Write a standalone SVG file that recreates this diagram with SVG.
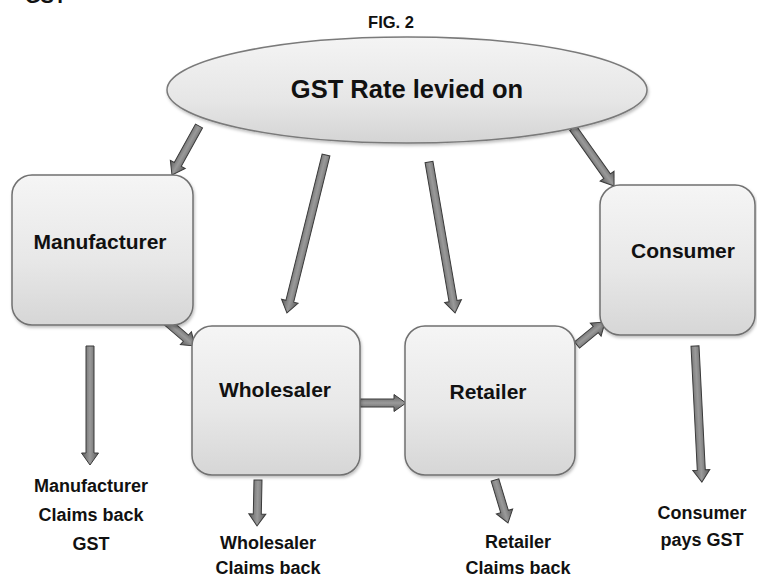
<svg xmlns="http://www.w3.org/2000/svg" width="757" height="579" viewBox="0 0 757 579">
  <defs>
    <linearGradient id="boxGrad" x1="0" y1="0" x2="0" y2="1">
      <stop offset="0" stop-color="#f5f5f5"/>
      <stop offset="0.55" stop-color="#e8e8e8"/>
      <stop offset="1" stop-color="#d6d6d6"/>
    </linearGradient>
    <linearGradient id="ellGrad" x1="0" y1="0" x2="0" y2="1">
      <stop offset="0" stop-color="#f4f4f4"/>
      <stop offset="0.6" stop-color="#e6e6e6"/>
      <stop offset="1" stop-color="#d4d4d4"/>
    </linearGradient>
    <linearGradient id="arrGrad" x1="0" y1="0" x2="0" y2="1">
      <stop offset="0" stop-color="#5a5a5a"/>
      <stop offset="0.5" stop-color="#9a9a9a"/>
      <stop offset="1" stop-color="#5a5a5a"/>
    </linearGradient>
    <filter id="shadow" x="-10%" y="-10%" width="120%" height="125%">
      <feDropShadow dx="1" dy="2" stdDeviation="1.5" flood-color="#000" flood-opacity="0.25"/>
    </filter>
  </defs>
  <style>
    .node { fill: url(#boxGrad); stroke: #707070; stroke-width: 1.5; filter: url(#shadow); }
    .ell { fill: url(#ellGrad); stroke: #7a7a7a; stroke-width: 1.5; filter: url(#shadow); }
    .arrow { fill: url(#arrGrad); stroke: #3a3a3a; stroke-width: 1; stroke-linejoin: miter; }
    text { font-family: "Liberation Sans", Arial, sans-serif; font-weight: bold; fill: #111; text-anchor: middle; }
    .nt { font-size: 21px; }
    .lt { font-size: 18px; }
  </style>

  <rect width="757" height="579" fill="#ffffff"/>

  <text x="25" y="3" style="text-anchor:start;font-size:20px">GST</text>
  <text x="391" y="28" style="font-size:16.5px">FIG. 2</text>

  <g id="connectors">
    <path class="arrow" transform="translate(199,126) rotate(118.9)" d="M0,-4 H43.9 V-8.5 L55.9,0 L43.9,8.5 V4 H0 Z"/>
    <path class="arrow" transform="translate(326,155) rotate(103.9)" d="M0,-4 H150.7 V-8.5 L162.7,0 L150.7,8.5 V4 H0 Z"/>
    <path class="arrow" transform="translate(429,162) rotate(80.2)" d="M0,-4 H141.2 V-8.5 L153.2,0 L141.2,8.5 V4 H0 Z"/>
    <path class="arrow" transform="translate(573,128) rotate(54.7)" d="M0,-4 H59 V-8.5 L71,0 L59,8.5 V4 H0 Z"/>
    <path class="arrow" transform="translate(167,322) rotate(40.6)" d="M0,-4 H24.9 V-8.5 L36.9,0 L24.9,8.5 V4 H0 Z"/>
    <path class="arrow" transform="translate(90,346) rotate(90)" d="M0,-4 H107 V-8.5 L119,0 L107,8.5 V4 H0 Z"/>
    <path class="arrow" transform="translate(360,403) rotate(0)" d="M0,-4 H34 V-8.5 L46,0 L34,8.5 V4 H0 Z"/>
    <path class="arrow" transform="translate(258,480) rotate(91.2)" d="M0,-4 H34 V-8.5 L46,0 L34,8.5 V4 H0 Z"/>
    <path class="arrow" transform="translate(495,480) rotate(73.2)" d="M0,-4 H32.9 V-8.5 L44.9,0 L32.9,8.5 V4 H0 Z"/>
    <path class="arrow" transform="translate(577,345) rotate(-39.4)" d="M0,-4 H24.2 V-8.5 L36.2,0 L24.2,8.5 V4 H0 Z"/>
    <path class="arrow" transform="translate(695,346) rotate(87.1)" d="M0,-4 H124.2 V-8.5 L136.2,0 L124.2,8.5 V4 H0 Z"/>
  </g>

  <g id="gst-rate">
    <ellipse class="ell" cx="407" cy="90" rx="240" ry="53"/>
    <text x="407" y="98" style="font-size:25.5px">GST Rate levied on</text>
  </g>

  <g id="manufacturer">
    <rect class="node" x="12" y="175" width="181" height="150" rx="20"/>
    <text class="nt" x="100" y="249">Manufacturer</text>
  </g>

  <g id="wholesaler">
    <rect class="node" x="192" y="326" width="168" height="149" rx="20"/>
    <text class="nt" x="275" y="397">Wholesaler</text>
  </g>

  <g id="retailer">
    <rect class="node" x="405" y="326" width="170" height="149" rx="20"/>
    <text class="nt" x="488" y="399">Retailer</text>
  </g>

  <g id="consumer">
    <rect class="node" x="600" y="185" width="155" height="150" rx="20"/>
    <text class="nt" x="683" y="258">Consumer</text>
  </g>

  <g id="manufacturer-label">
    <text class="lt" x="91" y="492">Manufacturer</text>
    <text class="lt" x="91" y="521">Claims back</text>
    <text class="lt" x="91" y="550">GST</text>
  </g>

  <g id="wholesaler-label">
    <text class="lt" x="268" y="549">Wholesaler</text>
    <text class="lt" x="268" y="574">Claims back</text>
  </g>

  <g id="retailer-label">
    <text class="lt" x="518" y="548">Retailer</text>
    <text class="lt" x="518" y="574">Claims back</text>
  </g>

  <g id="consumer-label">
    <text class="lt" x="702" y="519">Consumer</text>
    <text class="lt" x="702" y="546">pays GST</text>
  </g>
</svg>
